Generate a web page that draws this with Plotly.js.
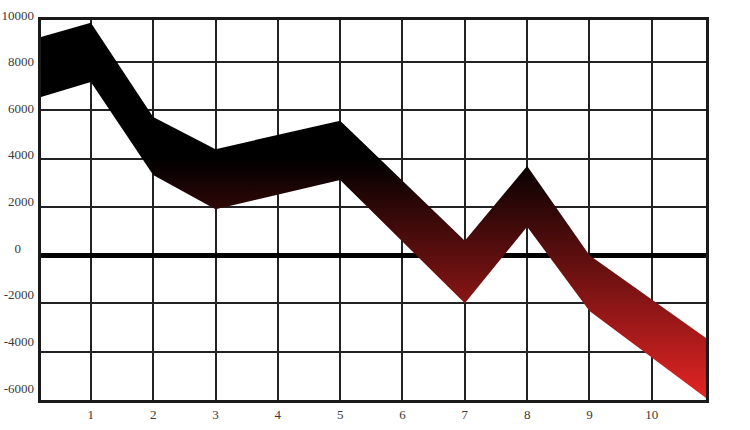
<!DOCTYPE html>
<html>
<head>
<meta charset="utf-8">
<script src="https://cdn.plot.ly/plotly-3.0.1.min.js"></script>
<style>
  html, body { margin: 0; padding: 0; background: #fff; }
  #chart { width: 750px; height: 430px; }
</style>
</head>
<body>
<div id="chart"></div>
<script>
// ribbon outline: x position, upper edge, lower edge
const xPts = [0.2, 1, 2, 3, 5, 7, 8, 9, 10.87];
const topEdge = [9040, 9630, 5720, 4390, 5570, 600, 3690, 0, -3430];
const bottomEdge = [6550, 7170, 3320, 1900, 3110, -1990, 1180, -2310, -5920];

const xTicks = [1, 2, 3, 4, 5, 6, 7, 8, 9, 10];
const yTicks = [10000, 8000, 6000, 4000, 2000, 0, -2000, -4000, -6000];

// pad short labels so they sit centred like the original
const yTickText = yTicks.map(v => {
  const s = String(v);
  return s.length < 4 ? s + '\u2007\u2007' : s;
});

const tickFont = { family: 'Liberation Serif, DejaVu Serif, serif', size: 13, color: '#3a3a3a' };

const data = [
  {
    x: xPts, y: bottomEdge,
    mode: 'lines', line: { width: 0 },
    hoverinfo: 'skip', showlegend: false
  },
  {
    x: xPts, y: topEdge,
    mode: 'lines', line: { width: 0 },
    fill: 'tonexty',
    fillgradient: {
      type: 'vertical',
      start: -6000,
      stop: 4000,
      colorscale: [[0, '#e62424'], [1, '#000000']]
    },
    hoverinfo: 'skip', showlegend: false
  },
  // empty trace so the label axis gets drawn
  { x: [], y: [], yaxis: 'y2', showlegend: false }
];

const layout = {
  width: 750,
  height: 430,
  margin: { l: 41, r: 44, t: 20, b: 30 },
  paper_bgcolor: '#fff',
  plot_bgcolor: '#fff',
  showlegend: false,
  xaxis: {
    range: [0.2, 10.87],
    tickvals: xTicks,
    ticks: '',
    tickfont: tickFont,
    showgrid: true,
    gridcolor: '#222',
    gridwidth: 2,
    zeroline: false,
    showline: true,
    mirror: true,
    linecolor: '#1a1a1a',
    linewidth: 3,
    fixedrange: true
  },
  yaxis: {
    range: [-6000, 9740],
    tick0: 0,
    dtick: 2000,
    showticklabels: false,
    ticks: '',
    showgrid: true,
    gridcolor: '#222',
    gridwidth: 2,
    zeroline: true,
    zerolinecolor: '#000',
    zerolinewidth: 5,
    showline: true,
    mirror: true,
    linecolor: '#1a1a1a',
    linewidth: 3,
    fixedrange: true
  },
  // labels only: the original's labels drift slightly off the grid lines
  yaxis2: {
    overlaying: 'y',
    side: 'left',
    range: [-6300, 10000],
    tickvals: yTicks,
    ticktext: yTickText,
    ticks: '',
    ticklabelshift: -5,
    ticklabelstandoff: 6,
    tickfont: tickFont,
    showgrid: false,
    zeroline: false,
    showline: false,
    fixedrange: true
  }
};

Plotly.newPlot('chart', data, layout, { staticPlot: true, displayModeBar: false });
</script>
</body>
</html>
